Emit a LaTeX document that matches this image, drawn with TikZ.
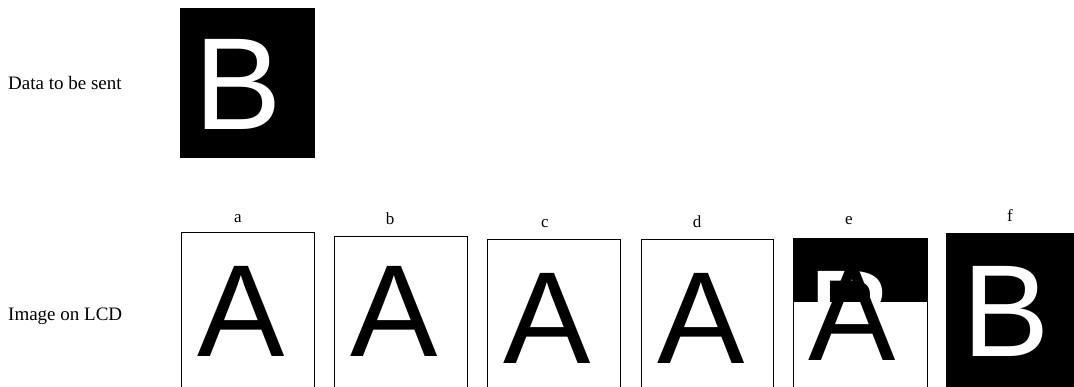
\documentclass[tikz,border=0pt]{standalone}
\usepackage{fontspec}
\setmainfont{Liberation Serif}
\newfontfamily\glyphfont{Liberation Sans}
\tikzset{
  lcdbox/.style={draw=black, line width=1pt},
  glyph/.style={font=\glyphfont\fontsize{131}{131}\selectfont, inner sep=0pt, outer sep=0pt, anchor=base},
  caption/.style={font=\fontsize{19}{22}\selectfont, inner sep=0pt, anchor=west},
  panelname/.style={font=\fontsize{17}{20}\selectfont, inner sep=0pt, anchor=base},
}
\begin{document}
\begin{tikzpicture}[x=1pt, y=-1pt]
      \useasboundingbox (0, 0) rectangle (1074, 387);
      \node[caption] (sentlbl) at (8, 83) {Data to be sent};
      \fill[black] (180, 8) rectangle (315, 158);
      \node[glyph, white] (sentB) at (238, 130) {B};
      \node[caption] (lcdlbl) at (8, 316) {Image on LCD};
      \foreach \nm/\lx/\rx/\tp/\ax/\bs/\tx/\ty in {a/181/314/233/241.5/357/238/223, b/334/467/237/394/357/390/225, c/487/620/240/547.5/363/545/228, d/641/773/240/701/363/697/228} {
        \fill[white] (\lx, \tp) rectangle (\rx, 395);
        \node[glyph] (glyph\nm) at (\ax, \bs) {A};
        \draw[lcdbox] (\lx, \tp) rectangle (\rx, 395);
        \node[panelname] (name\nm) at (\tx, \ty) {\nm};
      }
      \fill[black] (793, 239) rectangle (927, 302);
      \node[glyph, white] (glyphBe) at (851, 362) {B};
      \node[glyph] (glyphe) at (852.5, 360) {A};
      \draw[lcdbox] (793, 239) rectangle (927, 395);
      \node[panelname] (namee) at (849, 225) {e};
      \fill[black] (946, 233) rectangle (1080, 395);
      \node[glyph, white] (glyphf) at (1006, 357) {B};
      \node[panelname] (namef) at (1010, 222) {f};
    \end{tikzpicture}
\end{document}
